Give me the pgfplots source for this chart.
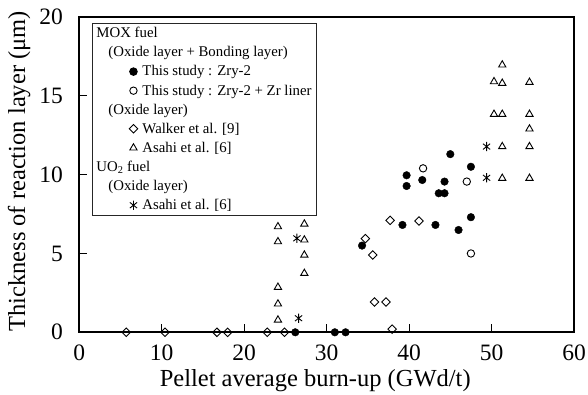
\documentclass[border=0pt]{standalone}
\usepackage{fontspec}
\setmainfont{Liberation Serif}
\usepackage{pgfplots}
\pgfplotsset{compat=1.18}
\pgfdeclareplotmark{vast}{%
  \pgfpathmoveto{\pgfqpoint{0pt}{-\pgfplotmarksize}}%
  \pgfpathlineto{\pgfqpoint{0pt}{\pgfplotmarksize}}%
  \pgfpathmoveto{\pgfqpoint{-.78\pgfplotmarksize}{-.62\pgfplotmarksize}}%
  \pgfpathlineto{\pgfqpoint{.78\pgfplotmarksize}{.62\pgfplotmarksize}}%
  \pgfpathmoveto{\pgfqpoint{-.78\pgfplotmarksize}{.62\pgfplotmarksize}}%
  \pgfpathlineto{\pgfqpoint{.78\pgfplotmarksize}{-.62\pgfplotmarksize}}%
  \pgfusepathqstroke}
\begin{document}
\begin{tikzpicture}
\begin{axis}[name=ax,
  width=494.8pt, height=315.3pt, scale only axis,
  xmin=0, xmax=60, ymin=0, ymax=20,
  xtick={0,10,...,60}, ytick={0,5,...,20},
  tick pos=left, tick align=inside, major tick length=8pt,
  axis line style={line width=1.6pt},
  every tick/.style={black, line width=1.1pt},
  /pgf/number format/assume math mode=true,
  tick label style={font=\fontsize{23.5}{26}\selectfont},
  xticklabel style={inner sep=0pt, anchor=north}, xticklabel shift=12pt,
  yticklabel style={inner sep=0pt, anchor=east}, yticklabel shift=16pt,
  label style={font=\fontsize{24.5}{27}\selectfont},
  xlabel={Pellet average burn-up (GWd/t)},
  ylabel={Thickness of reaction layer (μm)},
  xlabel style={at={(axis description cs:0.477,-0.171)}, anchor=base},
  ylabel style={at={(axis description cs:-0.1091,0.51)}, anchor=base},
  clip=false,
  legend style={at={(0.0259,0.981)}, anchor=north west, draw=black!85, line width=0.9pt,
    font=\fontsize{14.8}{17}\selectfont, inner xsep=3pt, inner ysep=2pt, row sep=3.3pt,
    cells={anchor=west, inner xsep=1pt, inner ysep=1.6pt}},
  legend image code/.code={\path[draw=none,fill=none] (0pt,-3pt) rectangle (45pt,3pt); \draw[#1] plot coordinates {(38pt,0pt)};},
]
\addlegendimage{empty legend}
\addlegendentry{\hspace*{-46pt}MOX fuel}
\addlegendimage{empty legend}
\addlegendentry{\hspace*{-34pt}(Oxide layer + Bonding layer)}
\addplot[only marks, mark=*, mark size=3.8pt, black] coordinates {
(26.2,0) (31.0,0) (32.3,0) (34.3,5.5) (39.2,6.81) (39.7,9.28) (39.7,9.96) (41.6,9.66)
(43.2,6.81) (43.6,8.82) (44.3,8.82) (44.3,9.56) (45.0,11.3) (46.0,6.49) (47.5,7.3) (47.5,10.5)};
\addlegendentry{This study : Zry-2}
\addplot[only marks, mark=o, mark size=3.7pt, black, mark options={line width=0.9pt}] coordinates {
(41.7,10.4) (47.0,9.56) (47.5,5.0)};
\addlegendentry{This study : Zry-2 + Zr liner}
\addlegendimage{empty legend}
\addlegendentry{\hspace*{-34pt}(Oxide layer)}
\addplot[only marks, mark=square, mark size=3.0pt, black, mark options={rotate=45, line width=0.9pt, fill=white}] coordinates {
(5.7,0) (10.4,0) (16.7,0) (18.0,0) (22.8,0) (24.9,0) (34.7,5.94) (35.6,4.9) (35.8,1.92)
(37.2,1.92) (37.7,7.1) (37.95,0.2) (41.2,7.06)};
\addlegendentry{Walker et al. [9]}
\addplot[only marks, mark=triangle, mark size=4.2pt, black, mark options={line width=0.9pt}] coordinates {
(24.1,6.7) (24.1,5.75) (24.1,2.86) (24.1,1.8) (24.1,0.78)
(27.3,6.87) (27.3,5.86) (27.3,4.9) (27.3,3.74)
(50.3,15.9) (50.3,13.83)
(51.3,16.96) (51.3,15.8) (51.3,13.83) (51.3,11.78) (51.3,9.77)
(54.6,15.86) (54.6,13.83) (54.6,12.9) (54.6,11.78) (54.6,9.77)};
\addlegendentry{Asahi et al. [6]}
\addlegendimage{empty legend}
\addlegendentry{\hspace*{-46pt}UO\textsubscript{2} fuel}
\addlegendimage{empty legend}
\addlegendentry{\hspace*{-34pt}(Oxide layer)}
\addplot[only marks, mark=vast, mark size=4.6pt, black, mark options={line width=0.9pt}] coordinates {
(26.4,5.96) (26.6,0.89) (49.4,11.78) (49.4,9.8)};
\addlegendentry{Asahi et al. [6]}
\end{axis}
\pgfresetboundingbox
\path ([shift={(-79.2pt,-62.7pt)}]ax.south west) rectangle ([shift={(14pt,17pt)}]ax.north east);
\end{tikzpicture}
\end{document}
